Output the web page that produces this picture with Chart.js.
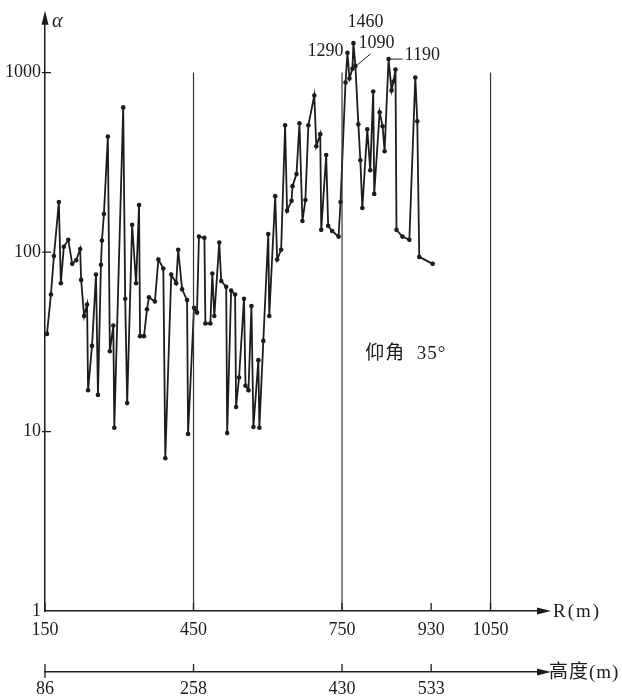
<!DOCTYPE html>
<html>
<head>
<meta charset="utf-8">
<script src="https://cdn.jsdelivr.net/npm/chart.js@4"></script>
<style>
  body { margin: 0; background: #fff; }
</style>
</head>
<body>
<canvas id="alphaChart" width="622" height="697"></canvas>
<script>
// distancia R (m) y valor alfa de cada punto
const rangeR = [154, 162, 168, 178, 182, 188, 197, 205, 213, 221, 223, 229, 235, 237, 245, 253, 257, 263, 265, 269,
  277, 281, 288, 290, 308, 312, 316, 326, 334, 340, 342, 350, 356, 360, 372, 379, 389, 393, 405, 415,
  419, 427, 437, 439, 451, 457, 461, 472, 474, 484, 488, 492, 502, 506, 516, 518, 526, 534, 536, 542,
  552, 555, 561, 567, 571, 581, 583, 591, 601, 603, 615, 619, 627, 635, 639, 648, 650, 658, 664, 670,
  676, 682, 694, 698, 706, 708, 718, 722, 730, 743, 747, 757, 761, 765, 771, 773, 777, 783, 787, 791,
  801, 807, 813, 815, 826, 832, 836, 844, 850, 854, 858, 860, 872, 886, 898, 902, 906, 933];
const alpha = [35, 58, 95, 190, 67, 107, 117, 86, 90, 104, 70, 44, 51, 17, 30, 75, 16, 85, 116, 163,
  440, 28, 39, 10.5, 640, 55, 14.4, 142, 67, 183, 34, 34, 48, 56, 53, 91, 81, 7.1, 75, 67,
  103, 62, 54, 9.7, 49, 46, 122, 120, 40, 40, 76, 44, 113, 69, 64, 9.8, 61, 58, 13.7, 20,
  55, 18, 17, 50, 10.6, 25, 10.5, 32, 126, 44, 205, 91, 103, 509, 170, 193, 233, 272, 522, 149,
  195, 509, 746, 389, 454, 133, 347, 140, 131, 122, 190, 881, 1290, 927, 1050, 1460, 1090, 515, 325, 176,
  483, 286, 785, 211, 601, 502, 365, 1190, 796, 893, 1040, 133, 122, 117, 940, 535, 94, 86];

// marcas de los ejes
const rTicks = [150, 450, 750, 930, 1050];
const guideR = [450, 750, 1050];
const guideTop = 1000;
const yTicks = [1, 10, 100, 1000];
const heightR = [150, 450, 750, 930];
const heightLabels = ['86', '258', '430', '533'];

// puntos con su valor escrito
const peakIdx = [92, 95, 96, 107];

const ink = '#1c1c1c';
const serif = '"Liberation Serif", "DejaVu Serif", serif';
const cjk = '"Liberation Serif", "Noto Sans CJK SC", serif';

const decor = {
  id: 'decor',
  afterDraw(chart) {
    const { ctx, chartArea: a, scales: { x, x2, y } } = chart;
    ctx.save();
    ctx.strokeStyle = ink;
    ctx.fillStyle = ink;
    ctx.lineWidth = 1.3;

    // flechas
    const arrow = (px, py, dir) => {
      ctx.beginPath();
      if (dir === 'up') {
        ctx.moveTo(px, py - 4); ctx.lineTo(px - 3.5, py + 10); ctx.lineTo(px + 3.5, py + 10);
      } else {
        ctx.moveTo(px + 6, py); ctx.lineTo(px - 8, py - 3.5); ctx.lineTo(px - 8, py + 3.5);
      }
      ctx.closePath();
      ctx.fill();
    };
    arrow(a.left, a.top, 'up');
    arrow(a.right, a.bottom, 'right');
    arrow(a.right, x2.top, 'right');

    // marcas cortas hacia dentro
    ctx.beginPath();
    x.ticks.forEach(t => {
      const px = x.getPixelForValue(t.value);
      ctx.moveTo(px, a.bottom); ctx.lineTo(px, a.bottom - 8);
    });
    x2.ticks.forEach(t => {
      const px = x2.getPixelForValue(t.value);
      ctx.moveTo(px, x2.top); ctx.lineTo(px, x2.top - 8);
    });
    ctx.moveTo(x2.getPixelForValue(heightR[0]), x2.top);
    ctx.lineTo(x2.getPixelForValue(heightR[0]), x2.top + 6);
    y.ticks.forEach(t => {
      const py = y.getPixelForValue(t.value);
      if (t.value > 1) { ctx.moveTo(a.left - 3, py); ctx.lineTo(a.left + 6, py); }
    });
    ctx.stroke();

    // títulos de ejes
    ctx.font = 'italic 20px ' + serif;
    ctx.textAlign = 'left';
    ctx.textBaseline = 'middle';
    ctx.fillText('α', a.left + 7, a.top + 7);
    ctx.font = '19px ' + cjk;
    ctx.letterSpacing = '2px';
    ctx.fillText('R(m)', a.right + 8, a.bottom + 1);
    ctx.letterSpacing = '1px';
    ctx.fillText('高度(m)', a.right + 4, x2.top + 1);

    // nota
    ctx.font = '19px ' + cjk;
    ctx.fillText('仰角  35°', x.getPixelForValue(797), y.getPixelForValue(27));
    ctx.letterSpacing = '0px';

    // valores de los picos
    ctx.font = '18px ' + serif;
    const pt = i => ({ px: x.getPixelForValue(rangeR[i]), py: y.getPixelForValue(alpha[i]) });
    let p = pt(peakIdx[0]);
    ctx.textAlign = 'right';
    ctx.fillText(String(alpha[peakIdx[0]]), p.px - 4, p.py - 2);
    p = pt(peakIdx[1]);
    ctx.textAlign = 'center';
    ctx.textBaseline = 'bottom';
    ctx.fillText(String(alpha[peakIdx[1]]), p.px + 12, p.py - 12);
    p = pt(peakIdx[2]);
    ctx.textAlign = 'left';
    ctx.textBaseline = 'middle';
    ctx.fillText(String(alpha[peakIdx[2]]), p.px + 3, p.py - 23);
    ctx.lineWidth = 1;
    ctx.beginPath();
    ctx.moveTo(p.px + 2, p.py - 1); ctx.lineTo(p.px + 15, p.py - 12);
    p = pt(peakIdx[3]);
    ctx.moveTo(p.px, p.py); ctx.lineTo(p.px + 14, p.py);
    ctx.stroke();
    ctx.fillText(String(alpha[peakIdx[3]]), p.px + 16, p.py - 4);
    ctx.restore();
  }
};

const ctx = document.getElementById('alphaChart').getContext('2d');

const alphaChart = new Chart(ctx, {
  type: 'line',
  data: {
    datasets: [
      ...guideR.map(r => ({
        data: [{ x: r, y: 1 }, { x: r, y: guideTop }],
        borderColor: '#333',
        borderWidth: 1.2,
        pointRadius: 0
      })),
      {
        data: rangeR.map((r, i) => ({ x: r, y: alpha[i] })),
        borderColor: ink,
        borderWidth: 1.8,
        pointRadius: 2.3,
        pointBackgroundColor: ink,
        pointBorderWidth: 0,
        tension: 0
      }
    ]
  },
  options: {
    responsive: false,
    animation: false,
    layout: { padding: { top: 12, right: 77, bottom: 0, left: 0 } },
    plugins: { legend: { display: false }, tooltip: { enabled: false } },
    scales: {
      x: {
        type: 'linear',
        min: 150,
        max: 1160,
        afterBuildTicks: s => { s.ticks = rTicks.map(v => ({ value: v })); },
        afterFit: s => { s.height = 61; },
        grid: { display: false, drawTicks: false },
        border: { color: ink, width: 1.5 },
        ticks: {
          autoSkip: false, maxRotation: 0, padding: 8, color: ink, font: { family: serif, size: 18 },
          callback: v => String(v)
        }
      },
      x2: {
        type: 'linear',
        position: 'bottom',
        min: 150,
        max: 1160,
        afterBuildTicks: s => { s.ticks = heightR.map(v => ({ value: v })); },
        afterFit: s => { s.height = 25; },
        grid: { display: false, drawTicks: false },
        border: { color: ink, width: 1.5 },
        ticks: {
          autoSkip: false, maxRotation: 0, padding: 6, color: ink, font: { family: serif, size: 18 },
          callback: (v, i) => heightLabels[i]
        }
      },
      y: {
        type: 'logarithmic',
        min: 1,
        max: 2100,
        afterBuildTicks: s => { s.ticks = yTicks.map(v => ({ value: v })); },
        afterFit: s => { s.width = 45; },
        grid: { display: false, drawTicks: false },
        border: { color: ink, width: 1.5 },
        ticks: { padding: 4, color: ink, font: { family: serif, size: 18 }, callback: v => String(v) }
      }
    }
  },
  plugins: [decor]
});
</script>
</body>
</html>
